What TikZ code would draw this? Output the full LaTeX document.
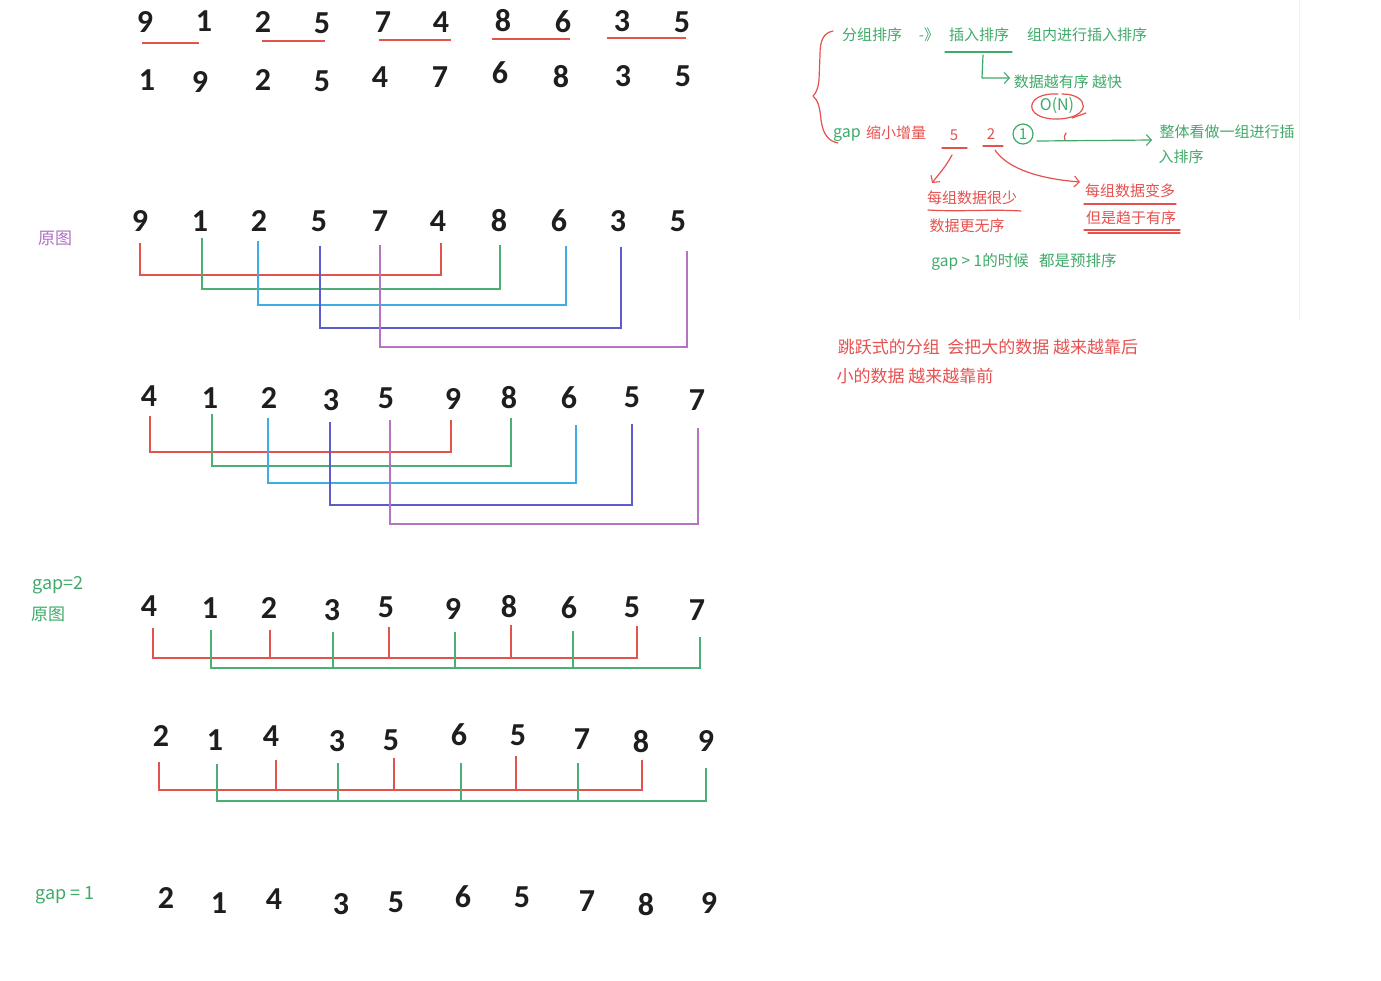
\documentclass[tikz,border=0pt]{standalone}
\usepackage{fontspec}
\setmainfont{Carlito}
\newfontfamily\cjk{Noto Sans CJK SC}
\usetikzlibrary{arrows.meta}
\definecolor{pred}{HTML}{E4524E}
\definecolor{pgreen}{HTML}{4BAE72}
\definecolor{pblue}{HTML}{40ACE6}
\definecolor{pindigo}{HTML}{5C5CCC}
\definecolor{ppurple}{HTML}{B574C2}
\definecolor{tgreen}{HTML}{3FAA69}
\definecolor{tred}{HTML}{E5514F}
\definecolor{tpurple}{HTML}{B070C4}
\definecolor{digit}{HTML}{1E1E1E}
\begin{document}
\begin{tikzpicture}[x=1pt,y=-1pt,
  dig/.style={font=\fontsize{32}{32}\selectfont\bfseries,text=digit,inner sep=0pt},
  note/.style={font=\cjk\fontsize{15}{15}\selectfont,inner sep=0pt},
  gn/.style={note,text=tgreen},
  rd/.style={note,text=tred},
  big/.style={font=\cjk\fontsize{17}{17}\selectfont},
  lbl/.style={font=\cjk\fontsize{18}{18}\selectfont},
  ln/.style={line width=1.7pt},
  pen/.style={line width=1.2pt,line cap=round,line join=round},
  barb/.style={-{Straight Barb[length=5pt,width=11pt,line width=1.1pt]}}
]
\useasboundingbox (0,0) rectangle (1381,980);
\fill[white] (0,0) rectangle (1381,980);
\draw[black!6,line width=1pt] (1299,0) -- (1299,320);

% ---------- row 1 ----------
\foreach \v/\x/\y [count=\i] in {9/145/22,1/204/21,2/263/22,5/322/23,7/383/22,4/441/22,8/503/21,6/563/22,3/622/21,5/682/22}
  \node[dig] (a\i) at (\x,\y) {\v};
\draw[pred,ln] (142,43) -- (199,43);
\draw[pred,ln] (262,41) -- (325,41);
\draw[pred,ln] (379,40) -- (451,40);
\draw[pred,ln] (492,39) -- (570,39);
\draw[pred,ln] (607,38) -- (686,38);

% ---------- row 2 ----------
\foreach \v/\x/\y [count=\i] in {1/147/80,9/200/82,2/263/80,5/322/81,4/380/77,7/440/77,6/500/73,8/561/77,3/623/76,5/683/76}
  \node[dig] (b\i) at (\x,\y) {\v};

% ---------- row 3 (gap=5, original) ----------
\node[note,big,text=tpurple] (lab1) at (55,238) {原图};
\foreach \v/\x [count=\i] in {9/140,1/200,2/259,5/319,7/380,4/438,8/499,6/559,3/618,5/678}
  \node[dig] (c\i) at (\x,221) {\v};
\draw[pred,ln]    (140,243) -- (140,275) -- (441,275) -- (441,243);
\draw[pgreen,ln]  (202,238) -- (202,289) -- (500,289) -- (500,245);
\draw[pblue,ln]   (258,241) -- (258,305) -- (566,305) -- (566,246);
\draw[pindigo,ln] (320,246) -- (320,328) -- (621,328) -- (621,247);
\draw[ppurple,ln] (380,245) -- (380,347) -- (687,347) -- (687,251);

% ---------- row 4 ----------
\foreach \v/\x/\y [count=\i] in {4/149/396,1/210/398,2/269/398,3/331/400,5/386/398,9/453/399,8/509/398,6/569/398,5/632/397,7/697/400}
  \node[dig] (d\i) at (\x,\y) {\v};
\draw[pred,ln]    (150,416) -- (150,452) -- (451,452) -- (451,420);
\draw[pgreen,ln]  (212,414) -- (212,466) -- (511,466) -- (511,418);
\draw[pblue,ln]   (268,418) -- (268,483) -- (576,483) -- (576,425);
\draw[pindigo,ln] (330,422) -- (330,505) -- (632,505) -- (632,424);
\draw[ppurple,ln] (390,420) -- (390,524) -- (698,524) -- (698,428);

% ---------- row 5 (gap=2) ----------
\node[note,lbl,text=tgreen] (lab2) at (58,585) {gap=2};
\node[note,big,text=tgreen] (lab3) at (48,614) {原图};
\foreach \v/\x/\y [count=\i] in {4/149/606,1/210/608,2/269/608,3/332/610,5/386/607,9/453/609,8/509/607,6/569/608,5/632/607,7/697/610}
  \node[dig] (e\i) at (\x,\y) {\v};
\draw[pred,ln] (153,628) -- (153,658) -- (637,658) -- (637,626);
\foreach \x/\t in {270/630,389/627,511/625} \draw[pred,ln] (\x,\t) -- (\x,658);
\draw[pgreen,ln] (211,630) -- (211,668) -- (700,668) -- (700,637);
\foreach \x/\t in {333/632,455/632,573/631} \draw[pgreen,ln] (\x,\t) -- (\x,668);

% ---------- row 6 ----------
\foreach \v/\x/\y [count=\i] in {2/161/736,1/215/740,4/271/736,3/337/741,5/391/740,6/459/735,5/518/735,7/582/739,8/641/742,9/706/741}
  \node[dig] (f\i) at (\x,\y) {\v};
\draw[pred,ln] (159,762) -- (159,790) -- (642,790) -- (642,760);
\foreach \x/\t in {276/760,394/758,516/756} \draw[pred,ln] (\x,\t) -- (\x,790);
\draw[pgreen,ln] (217,764) -- (217,801) -- (706,801) -- (706,768);
\foreach \x/\t in {338/763,461/763,578/763} \draw[pgreen,ln] (\x,\t) -- (\x,801);

% ---------- row 7 (gap = 1) ----------
\node[note,lbl,text=tgreen] (lab4) at (65,895) {gap\ =\ 1};
\foreach \v/\x/\y [count=\i] in {2/166/898,1/219/903,4/274/899,3/341/904,5/396/902,6/463/897,5/522/897,7/587/901,8/646/905,9/709/903}
  \node[dig] (g\i) at (\x,\y) {\v};

% ---------- notes (top right) ----------
\draw[tred,pen] (833,31) .. controls (823,33) and (820,41) .. (820,55) -- (819,80)
  .. controls (818,89) and (816,93) .. (813,96) .. controls (818,100) and (820,108) .. (821,120)
  .. controls (823,134) and (828,141) .. (838,143);
\node[gn] (n1) at (872,35) {分组排序};
\node[gn] (n2) at (929,35) {-》};
\node[gn] (n3) at (979,35) {插入排序};
\node[gn] (n4) at (1087,35) {组内进行插入排序};
\draw[tgreen,pen] (945,52) -- (1012,52);
\draw[tgreen,pen,barb] (983,55) -- (982,78) -- (1010,78);
\node[gn] (n5) at (1068,82) {数据越有序 越快};
\node[gn,font=\cjk\fontsize{16}{16}\selectfont] (n6) at (1057,106) {O(N)};
\draw[tred,pen] (1058,94) .. controls (1024,92) and (1022,120) .. (1058,119) .. controls (1092,118) and (1090,94) .. (1062,94);
\draw[tred,pen] (1072,118) -- (1086,113);

\node[gn,font=\cjk\fontsize{16}{16}\selectfont] (gapw) at (847,135) {gap};
\node[rd] (shr) at (896,133) {缩小增量};
\node[rd] (five) at (954,135) {5};
\draw[tred,pen] (942,148) -- (967,148);
\node[rd] (two) at (991,134) {2};
\draw[tred,pen] (983,146) -- (1003,146);
\node[gn] (one) at (1023,134) {1};
\draw[tgreen,pen] (1023,134) circle (10);
\draw[tgreen,pen,barb] (1037,141) -- (1152,140);
\draw[tred,pen] (1066,133) .. controls (1064,136) .. (1065,140);
\node[gn] (n7) at (1227,132) {整体看做一组进行插};
\node[gn] (n8) at (1181,157) {入排序};

\draw[tred,pen,barb] (952,155) .. controls (945,168) and (938,175) .. (932,183);
\draw[tred,pen,barb] (995,150) .. controls (1005,165) and (1030,178) .. (1080,182);
\node[rd] (n9) at (972,198) {每组数据很少};
\draw[tred,pen] (928,210) .. controls (960,212) and (990,209) .. (1021,211);
\node[rd] (n10) at (967,226) {数据更无序};
\node[rd] (n11) at (1130,191) {每组数据变多};
\draw[tred,pen] (1084,204) -- (1176,204);
\node[rd] (n12) at (1131,218) {但是趋于有序};
\draw[tred,pen] (1084,230) -- (1180,230);
\draw[tred,pen] (1088,233) -- (1180,233);
\node[gn,font=\cjk\fontsize{15.5}{15.5}\selectfont] (n13) at (1024,262) {gap\ >\ 1的时候\ \ \ 都是预排序};

\node[rd,big] (n14) at (988,347) {跳跃式的分组\ \ 会把大的数据 越来越靠后};
\node[rd,big] (n15) at (915,376) {小的数据 越来越靠前};
\end{tikzpicture}
\end{document}
